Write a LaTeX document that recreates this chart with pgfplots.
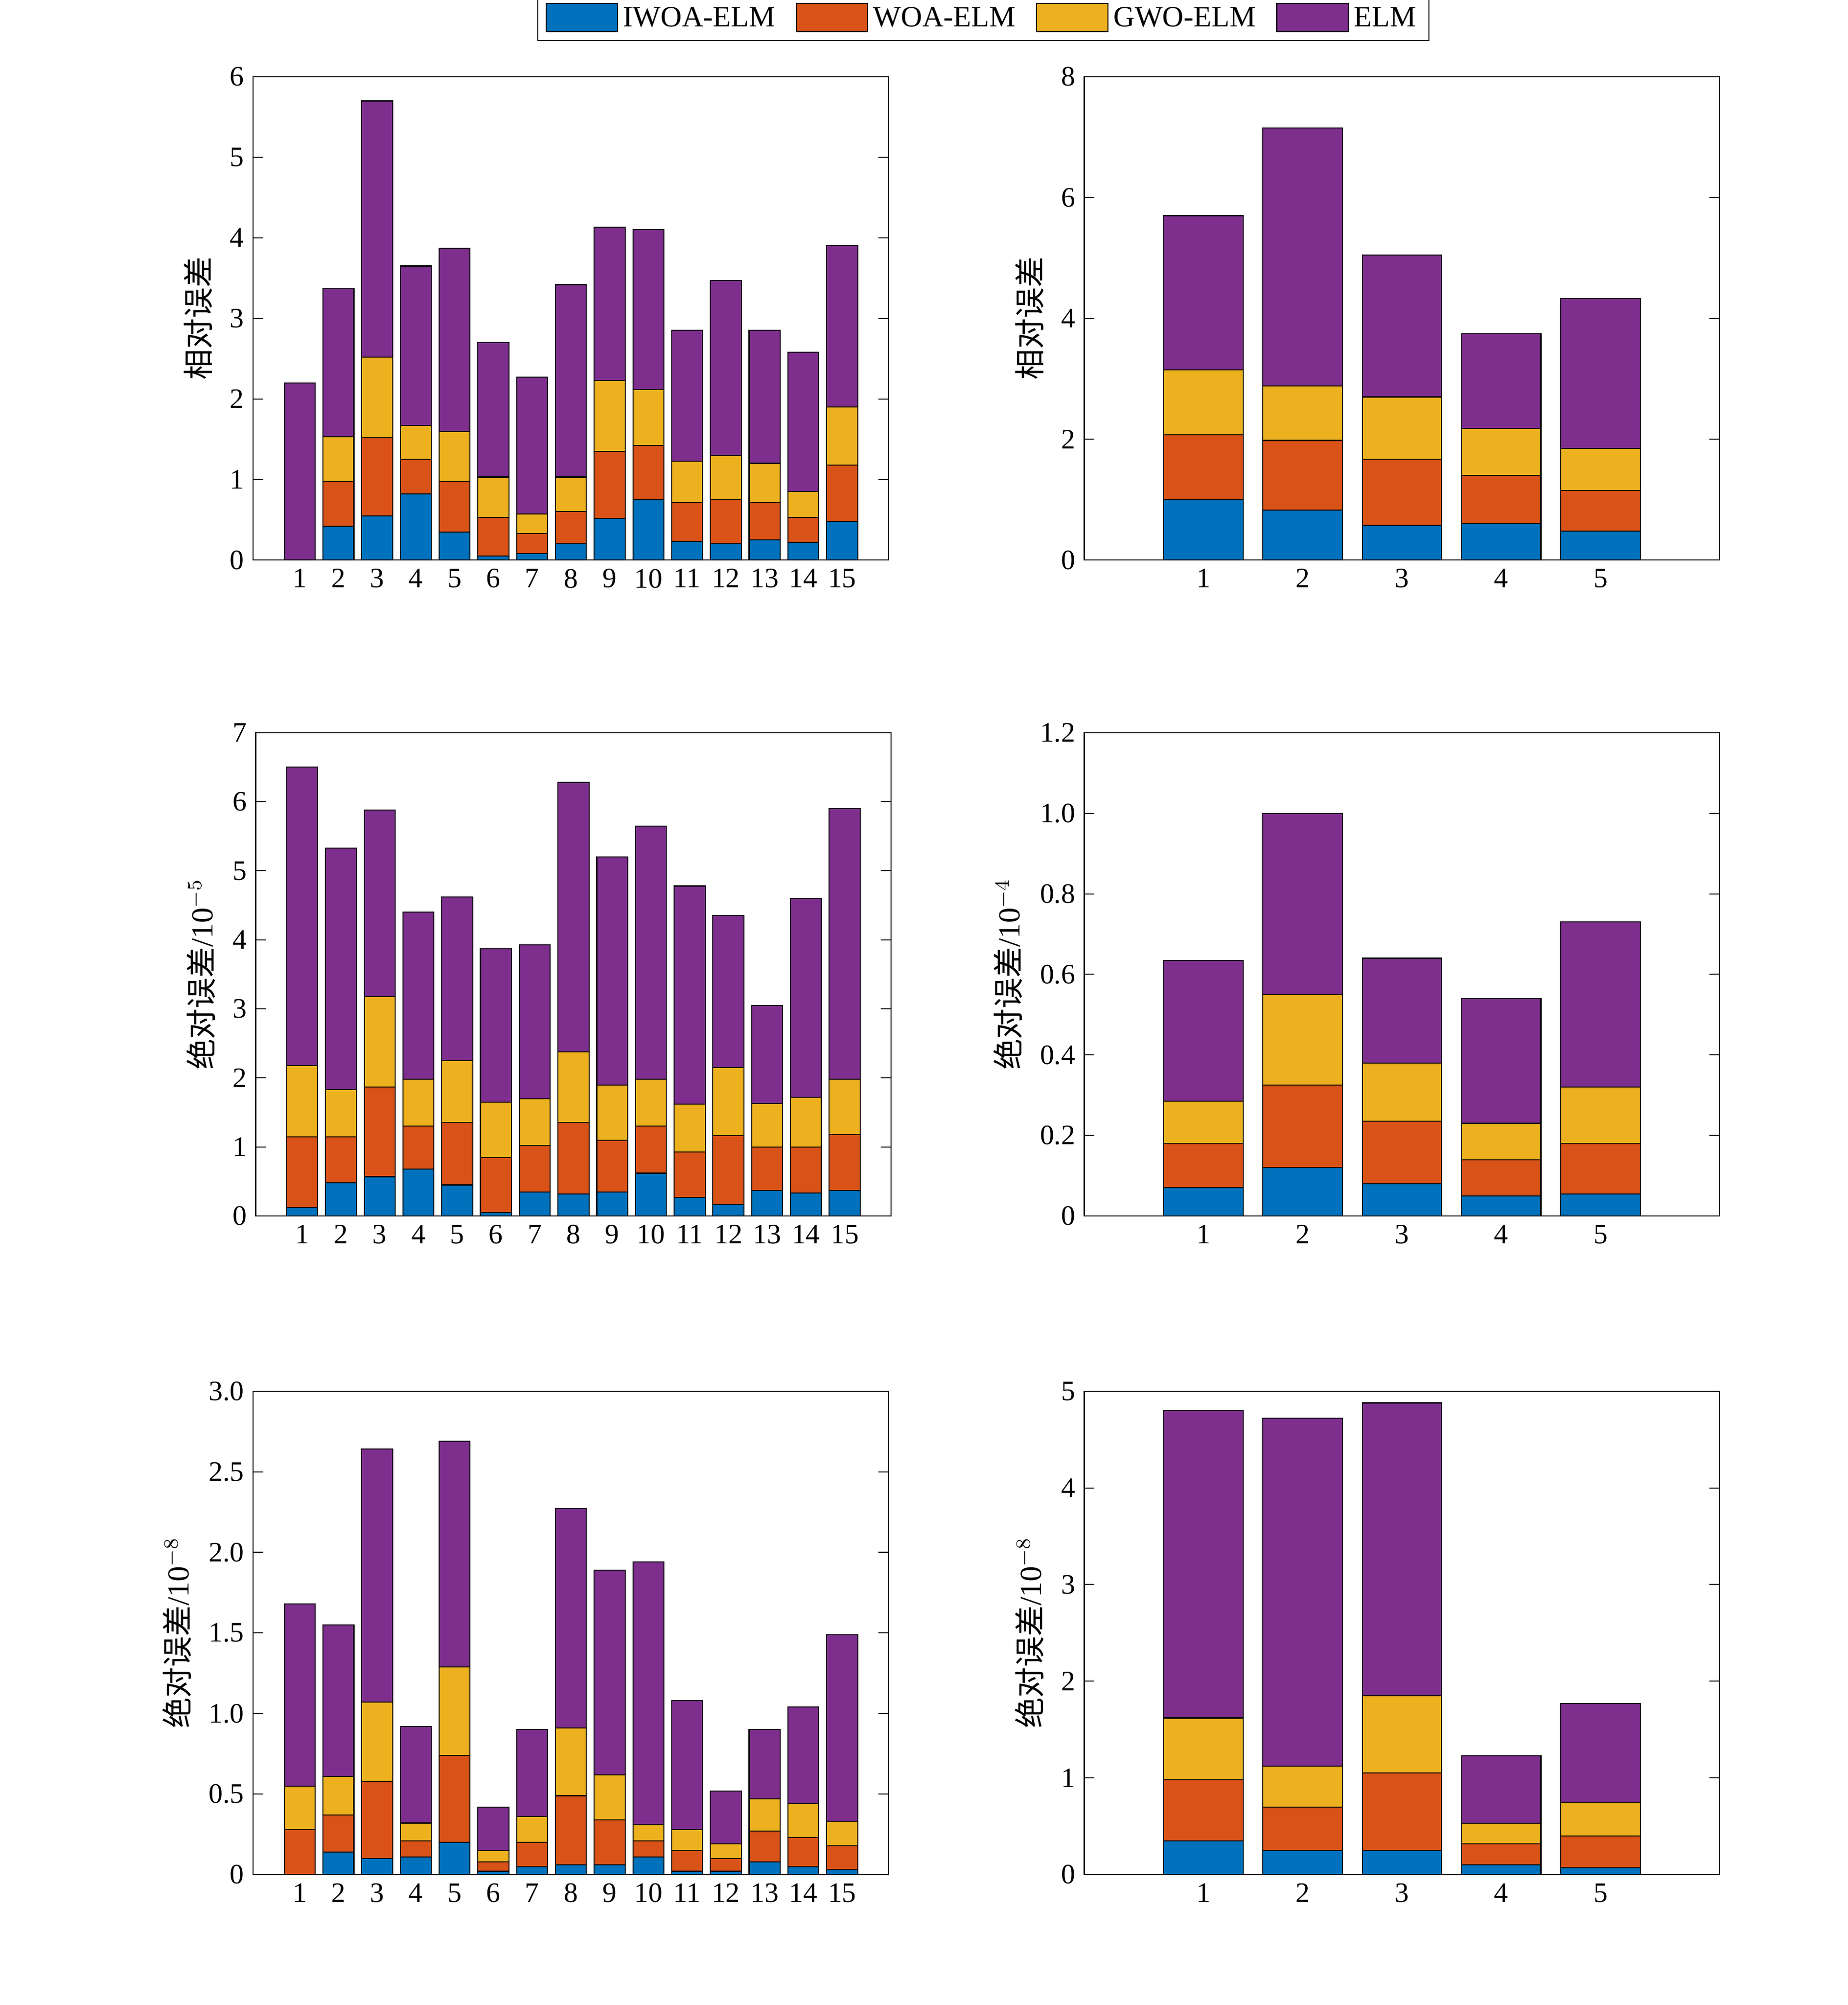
\documentclass[border=0pt]{standalone}
\usepackage{pgfplots}
\usepackage{pgfplotstable}
\pgfplotsset{compat=1.18}
\usepackage{fontspec}
\setmainfont{Liberation Serif}
\newfontfamily\cjk{Noto Sans CJK SC}
\definecolor{c1}{rgb}{0,0.447,0.741}
\definecolor{c2}{rgb}{0.85,0.325,0.098}
\definecolor{c3}{rgb}{0.929,0.694,0.125}
\definecolor{c4}{rgb}{0.494,0.184,0.556}
\pgfplotstableread{
x I W G E
1 0 0 0 2.2
2 .42 .56 .55 1.84
3 .55 .97 1.0 3.18
4 .82 .43 .42 1.98
5 .35 .63 .62 2.27
6 .05 .48 .5 1.67
7 .08 .25 .24 1.7
8 .2 .4 .43 2.39
9 .52 .83 .88 1.9
10 .75 .67 .7 1.98
11 .23 .49 .51 1.62
12 .2 .55 .55 2.17
13 .25 .47 .48 1.65
14 .22 .31 .32 1.73
15 .48 .7 .72 2.0
}\tA
\pgfplotstableread{
x I W G E
1 1.0 1.07 1.08 2.55
2 .83 1.15 .9 4.27
3 .58 1.09 1.03 2.35
4 .6 .8 .78 1.57
5 .48 .67 .7 2.48
}\tB
\pgfplotstableread{
x I W G E
1 .12 1.03 1.03 4.32
2 .48 .67 .68 3.5
3 .57 1.3 1.31 2.7
4 .68 .62 .68 2.42
5 .45 .9 .9 2.37
6 .05 .8 .8 2.22
7 .35 .67 .68 2.23
8 .32 1.03 1.03 3.9
9 .35 .75 .8 3.3
10 .62 .68 .68 3.67
11 .27 .66 .69 3.16
12 .17 1.0 .98 2.2
13 .37 .63 .63 1.42
14 .33 .67 .72 2.88
15 .37 .81 .8 3.92
}\tC
\pgfplotstableread{
x I W G E
1 .07 .11 .105 .35
2 .12 .205 .225 .45
3 .08 .155 .145 .26
4 .05 .09 .09 .31
5 .055 .125 .14 .41
}\tD
\pgfplotstableread{
x I W G E
1 0 .28 .27 1.13
2 .14 .23 .24 .94
3 .1 .48 .49 1.57
4 .11 .1 .11 .6
5 .2 .54 .55 1.4
6 .02 .06 .07 .27
7 .05 .15 .16 .54
8 .06 .43 .42 1.36
9 .06 .28 .28 1.27
10 .11 .1 .1 1.63
11 .02 .13 .13 .8
12 .02 .08 .09 .33
13 .08 .19 .2 .43
14 .05 .18 .21 .6
15 .03 .15 .15 1.16
}\tE
\pgfplotstableread{
x I W G E
1 .35 .63 .64 3.18
2 .25 .45 .42 3.6
3 .25 .8 .8 3.03
4 .1 .22 .21 .7
5 .07 .33 .35 1.02
}\tF
\pgfplotsset{
  pan/.style={scale only axis, width=248.5pt, height=189pt, anchor=north west,
    ybar stacked, bar width=0.8, ymin=0, xmin=-0.2,
    tick align=inside, major tick length=4pt, axis line style={thin},
    xtick pos=bottom, ytick pos=both, every tick/.style={black,thin},
    ticklabel style={font=\fontsize{11}{13}\selectfont},
    label style={font=\fontsize{12}{14}\selectfont},
    /pgf/number format/assume math mode=true,
    every axis plot/.append style={draw=black, line width=0.4pt}},
  p15/.style={pan, xmax=16.2, xtick={1,...,15}},
  p5/.style={pan, xmax=6.2, xtick={1,...,5}},
}
\newcommand{\bars}[1]{%
  \addplot[fill=c1] table[x=x,y=I]{#1};
  \addplot[fill=c2] table[x=x,y=W]{#1};
  \addplot[fill=c3] table[x=x,y=G]{#1};
  \addplot[fill=c4] table[x=x,y=E]{#1};}
\newcommand{\pancap}[1]{%
  \node[font=\fontsize{12}{14}\selectfont] at (rel axis cs:0.5,-0.127) {\cjk 样本编号};
  \node[font=\fontsize{12}{14}\selectfont] at (rel axis cs:0.5,-0.22) {#1};}
\begin{document}
\begin{tikzpicture}
\path[use as bounding box] (0,0) rectangle (722.5pt,-784pt);
\begin{axis}[p15, at={(99pt,-30pt)}, ymax=6, ytick={0,...,6}, ylabel={\cjk 相对误差},
  legend columns=4, area legend,
  legend style={at={(1.149,1.12)}, anchor=center, draw=black, font=\fontsize{11.5}{13}\selectfont,
    /tikz/every even column/.append style={column sep=6pt}},
  legend image code/.code={\draw[#1] (0pt,-5pt) rectangle (28pt,6pt);}]
\bars{\tA}
\legend{IWOA-ELM,WOA-ELM,GWO-ELM,ELM}
\pancap{(a) {\cjk 训练集相对误差}}
\end{axis}
\begin{axis}[p5, at={(424pt,-30pt)}, ymax=8, ytick={0,2,...,8}, ylabel={\cjk 相对误差}]
\bars{\tB}
\pancap{(b) {\cjk 测试集相对误差}}
\end{axis}
\begin{axis}[p15, at={(100pt,-286.5pt)}, ymax=7, ytick={0,...,7}, ylabel={{\cjk 绝对误差}/10$^{-5}$}]
\bars{\tC}
\pancap{(c) {\cjk 训练集绝对误差}}
\end{axis}
\begin{axis}[p5, at={(424pt,-286.5pt)}, ymax=1.2, ytick={0,0.2,...,1.2},
  yticklabels={0,0.2,0.4,0.6,0.8,1.0,1.2}, ylabel={{\cjk 绝对误差}/10$^{-4}$}]
\bars{\tD}
\pancap{(d) {\cjk 测试集绝对误差}}
\end{axis}
\begin{axis}[p15, at={(99pt,-544pt)}, ymax=3, ytick={0,0.5,...,3},
  yticklabels={0,0.5,1.0,1.5,2.0,2.5,3.0}, ylabel={{\cjk 绝对误差}/10$^{-8}$}]
\bars{\tE}
\pancap{(e) {\cjk 训练集均方误差}}
\end{axis}
\begin{axis}[p5, at={(424pt,-544pt)}, ymax=5, ytick={0,...,5}, ylabel={{\cjk 绝对误差}/10$^{-8}$}]
\bars{\tF}
\pancap{(f) {\cjk 测试集均方误差}}
\end{axis}
\end{tikzpicture}
\end{document}
